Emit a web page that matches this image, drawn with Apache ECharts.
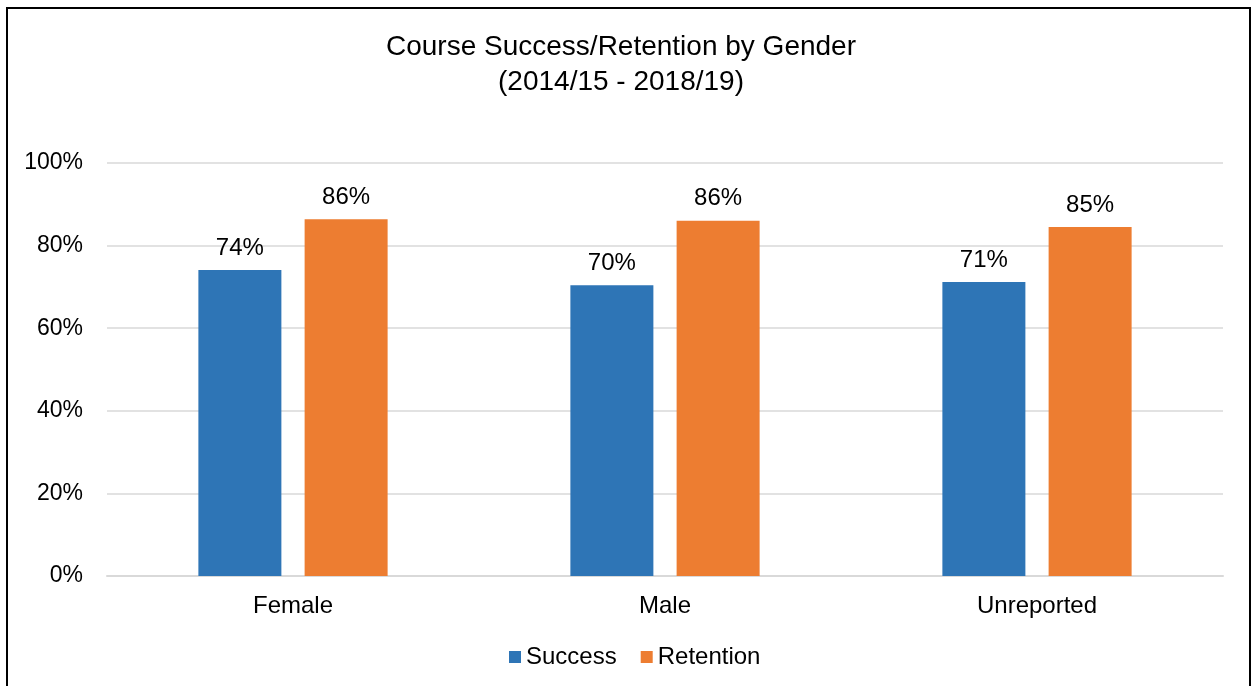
<!DOCTYPE html>
<html>
<head>
<meta charset="utf-8">
<script src="https://cdn.jsdelivr.net/npm/echarts@6/dist/echarts.min.js"></script>
<style>
  html, body { margin: 0; padding: 0; background: #fff; }
  #chart { width: 1253px; height: 686px; }
</style>
</head>
<body>
<div id="chart"></div>
<script>
// data
const categories = ['Female', 'Male', 'Unreported']
const success = [0.741, 0.704, 0.712]
const retention = [0.864, 0.860, 0.845]
const yTicks = [0, 0.2, 0.4, 0.6, 0.8, 1.0]

const font = '"Liberation Sans", Arial, sans-serif'
const pct = function (v) { return Math.round(v * 100) + '%' }

const myChart = echarts.init(document.getElementById('chart'))
const barLabel = {
  show: true,
  position: 'top',
  distance: 10,
  color: '#000',
  fontSize: 24,
  fontFamily: font,
  formatter: function (p) { return pct(p.value) }
}
const option = {
  animation: false,
  backgroundColor: '#fff',
  title: {
    text: 'Course Success/Retention by Gender',
    subtext: '(2014/15 - 2018/19)',
    left: 621,
    top: 33,
    textAlign: 'center',
    itemGap: 7,
    padding: 0,
    textStyle: { fontSize: 28, fontWeight: 'normal', color: '#000', fontFamily: font, lineHeight: 28 },
    subtextStyle: { fontSize: 28, color: '#000', fontFamily: font, lineHeight: 28 }
  },
  graphic: [
    {
      type: 'rect',
      shape: { x: 7, y: 8, width: 1243, height: 700 },
      style: { fill: 'none', stroke: '#000', lineWidth: 2 },
      silent: true
    }
  ],
  legend: {
    data: ['Success', 'Retention'],
    bottom: 12,
    left: 504,
    icon: 'rect',
    itemWidth: 12,
    itemHeight: 12,
    itemGap: 24,
    textStyle: { fontSize: 24, color: '#000', fontFamily: font }
  },
  grid: { left: 107, right: 30, top: 163, bottom: 110 },
  xAxis: {
    type: 'category',
    data: categories,
    axisLine: { lineStyle: { color: '#d9d9d9', width: 2 } },
    axisTick: { show: false },
    axisLabel: { color: '#000', fontSize: 24, fontFamily: font, margin: 18 }
  },
  yAxis: {
    type: 'value',
    min: yTicks[0],
    max: yTicks[yTicks.length - 1],
    interval: 0.2,
    axisLine: { show: false },
    axisTick: { show: false },
    splitLine: { lineStyle: { color: '#d9d9d9', width: 1.5 } },
    axisLabel: { color: '#000', fontSize: 23, fontFamily: font, margin: 24, formatter: pct }
  },
  series: [
    {
      name: 'Success',
      type: 'bar',
      data: success,
      barWidth: 83,
      barGap: '28%',
      itemStyle: { color: '#2e75b6' },
      label: barLabel
    },
    {
      name: 'Retention',
      type: 'bar',
      data: retention,
      barWidth: 83,
      itemStyle: { color: '#ed7d31' },
      label: barLabel
    }
  ]
}
myChart.setOption(option)
</script>
</body>
</html>
